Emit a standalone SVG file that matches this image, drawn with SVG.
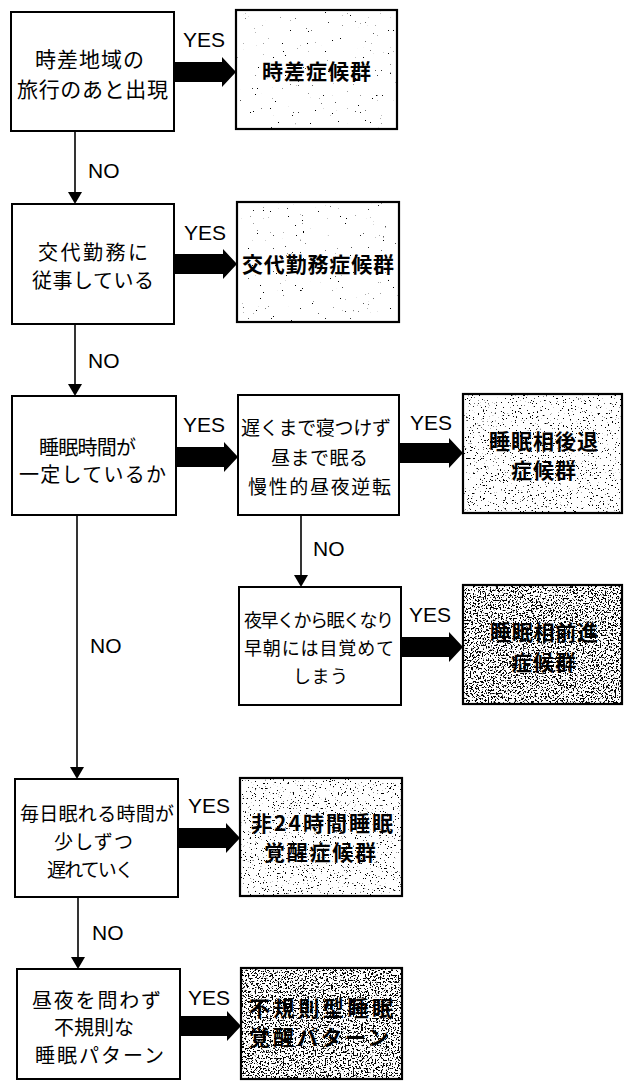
<svg xmlns="http://www.w3.org/2000/svg" width="625" height="1084" viewBox="0 0 625 1084">
<style>
.box{fill:#fff;stroke:#000;stroke-width:2}
.rbox{fill:none;stroke:#000;stroke-width:2.2}
.t{font-family:"Noto Sans CJK JP","Noto Sans CJK SC",sans-serif;fill:#000;dominant-baseline:central}
.b{font-weight:bold}
.lbl{font-family:"Liberation Sans",Arial,sans-serif;font-size:21px;fill:#000}
.ln{stroke:#000;stroke-width:1.6;fill:none}
.ar{fill:#000}
</style>
<defs>
<filter id="sp1" x="0" y="0" width="1" height="1" color-interpolation-filters="sRGB">
<feTurbulence type="fractalNoise" baseFrequency="0.6" numOctaves="3" seed="3"/>
<feColorMatrix type="matrix" values="0 0 0 0 0  0 0 0 0 0  0 0 0 0 0  -20 0 0 0 4.5"/>
</filter>
<filter id="sp2" x="0" y="0" width="1" height="1" color-interpolation-filters="sRGB">
<feTurbulence type="fractalNoise" baseFrequency="0.6" numOctaves="3" seed="7"/>
<feColorMatrix type="matrix" values="0 0 0 0 0  0 0 0 0 0  0 0 0 0 0  -20 0 0 0 6.6"/>
</filter>
<filter id="sp3" x="0" y="0" width="1" height="1" color-interpolation-filters="sRGB">
<feTurbulence type="fractalNoise" baseFrequency="0.6" numOctaves="3" seed="11"/>
<feColorMatrix type="matrix" values="0 0 0 0 0  0 0 0 0 0  0 0 0 0 0  -20 0 0 0 9.0"/>
</filter>
</defs>
<rect width="625" height="1084" fill="#fff"/>

<g id="connectors">
<path class="ln" d="M75 131V192"/><polygon class="ar" points="68,192 82,192 75,204"/>
<path class="ln" d="M75 324V384"/><polygon class="ar" points="68,384 82,384 75,396"/>
<path class="ln" d="M77 515V767"/><polygon class="ar" points="70,767 84,767 77,779"/>
<path class="ln" d="M301 515V575"/><polygon class="ar" points="294,575 308,575 301,587"/>
<path class="ln" d="M78 897V957"/><polygon class="ar" points="71,957 85,957 78,969"/>
<polygon class="ar" points="174,62 222,62 222,57 236,72 222,87 222,82 174,82"/>
<polygon class="ar" points="174,254 223,254 223,249 237,264 223,279 223,274 174,274"/>
<polygon class="ar" points="176,447 224,447 224,442 238,457 224,472 224,467 176,467"/>
<polygon class="ar" points="399,443 449,443 449,438 463,453 449,468 449,463 399,463"/>
<polygon class="ar" points="401,637 449,637 449,632 463,647 449,662 449,657 401,657"/>
<polygon class="ar" points="178,828 226,828 226,823 240,838 226,853 226,848 178,848"/>
<polygon class="ar" points="180,1016 227,1016 227,1011 241,1026 227,1041 227,1036 180,1036"/>
<text class="lbl" x="183" y="47">YES</text>
<text class="lbl" x="184" y="240">YES</text>
<text class="lbl" x="183" y="432">YES</text>
<text class="lbl" x="410" y="430">YES</text>
<text class="lbl" x="409" y="622">YES</text>
<text class="lbl" x="188" y="813">YES</text>
<text class="lbl" x="188" y="1005">YES</text>
<text class="lbl" x="88" y="178">NO</text>
<text class="lbl" x="88" y="368">NO</text>
<text class="lbl" x="90" y="653">NO</text>
<text class="lbl" x="313" y="556">NO</text>
<text class="lbl" x="92" y="940">NO</text>
</g>

<g id="q1">
<rect class="box" x="11" y="12" width="163" height="119"/>
<text class="t" font-size="21" x="35" y="58" textLength="109">時差地域の</text>
<text class="t" font-size="21" x="17" y="88" textLength="151">旅行のあと出現</text>
</g>
<g id="r1">
<rect x="236" y="10" width="161" height="119" fill="#fff"/>
<rect x="236" y="10" width="161" height="119" fill="#fff" filter="url(#sp1)"/>
<rect class="rbox" x="236" y="10" width="161" height="119"/>
<text class="t b" font-size="21" x="262" y="70" textLength="109">時差症候群</text>
</g>

<g id="q2">
<rect class="box" x="12" y="204" width="162" height="120"/>
<text class="t" font-size="20" x="38" y="251" textLength="110">交代勤務に</text>
<text class="t" font-size="20" x="32" y="279" textLength="122">従事している</text>
</g>
<g id="r2">
<rect x="237" y="202" width="162" height="120" fill="#fff"/>
<rect x="237" y="202" width="162" height="120" fill="#fff" filter="url(#sp1)"/>
<rect class="rbox" x="237" y="202" width="162" height="120"/>
<text class="t b" font-size="21" x="242" y="263" textLength="152">交代勤務症候群</text>
</g>

<g id="q3">
<rect class="box" x="12" y="396" width="164" height="119"/>
<text class="t" font-size="20" x="39" y="446" textLength="97">睡眠時間が</text>
<text class="t" font-size="20" x="19" y="473" textLength="147">一定しているか</text>
</g>
<g id="q3b">
<rect class="box" x="238" y="395" width="161" height="120"/>
<text class="t" font-size="19" x="241" y="426" textLength="150">遅くまで寝つけず</text>
<text class="t" font-size="19" x="271" y="456" textLength="97">昼まで眠る</text>
<text class="t" font-size="19" x="248" y="485" textLength="143">慢性的昼夜逆転</text>
</g>
<g id="r3">
<rect x="463" y="394" width="159" height="119" fill="#fff"/>
<rect x="463" y="394" width="159" height="119" fill="#fff" filter="url(#sp2)"/>
<rect class="rbox" x="463" y="394" width="159" height="119"/>
<text class="t b" font-size="21" x="489" y="440" textLength="109">睡眠相後退</text>
<text class="t b" font-size="21" x="511" y="469" textLength="65">症候群</text>
</g>

<g id="q4">
<rect class="box" x="239" y="587" width="162" height="118"/>
<text class="t" font-size="18" x="244" y="619" textLength="150">夜早くから眠くなり</text>
<text class="t" font-size="18" x="244" y="647" textLength="150">早朝には目覚めて</text>
<text class="t" font-size="18" x="293" y="675" textLength="55">しまう</text>
</g>
<g id="r4">
<rect x="463" y="585" width="159" height="119" fill="#fff"/>
<rect x="463" y="585" width="159" height="119" fill="#fff" filter="url(#sp3)"/>
<rect class="rbox" x="463" y="585" width="159" height="119"/>
<text class="t b" font-size="21" x="490" y="631" textLength="108">睡眠相前進</text>
<text class="t b" font-size="21" x="511" y="661" textLength="65">症候群</text>
</g>

<g id="q5">
<rect class="box" x="15" y="779" width="163" height="118"/>
<text class="t" font-size="19" x="20" y="812" textLength="154">毎日眠れる時間が</text>
<text class="t" font-size="19" x="54" y="840" textLength="79">少しずつ</text>
<text class="t" font-size="19" x="47" y="868" textLength="87">遅れていく</text>
</g>
<g id="r5">
<rect x="240" y="778" width="162" height="118" fill="#fff"/>
<rect x="240" y="778" width="162" height="118" fill="#fff" filter="url(#sp2)"/>
<rect class="rbox" x="240" y="778" width="162" height="118"/>
<text class="t b" font-size="21" x="251" y="822" textLength="142">非24時間睡眠</text>
<text class="t b" font-size="21" x="264" y="851" textLength="112">覚醒症候群</text>
</g>

<g id="q6">
<rect class="box" x="17" y="969" width="163" height="110"/>
<text class="t" font-size="20" x="32" y="999" textLength="129">昼夜を問わず</text>
<text class="t" font-size="20" x="54" y="1026" textLength="80">不規則な</text>
<text class="t" font-size="20" x="35" y="1054" textLength="129">睡眠パターン</text>
</g>
<g id="r6">
<rect x="241" y="968" width="161" height="111" fill="#fff"/>
<rect x="241" y="968" width="161" height="111" fill="#fff" filter="url(#sp3)"/>
<rect class="rbox" x="241" y="968" width="161" height="111"/>
<text class="t b" font-size="21" x="249" y="1007" textLength="144">不規則型睡眠</text>
<text class="t b" font-size="21" x="249" y="1036" textLength="140">覚醒パターン</text>
</g>
</svg>
